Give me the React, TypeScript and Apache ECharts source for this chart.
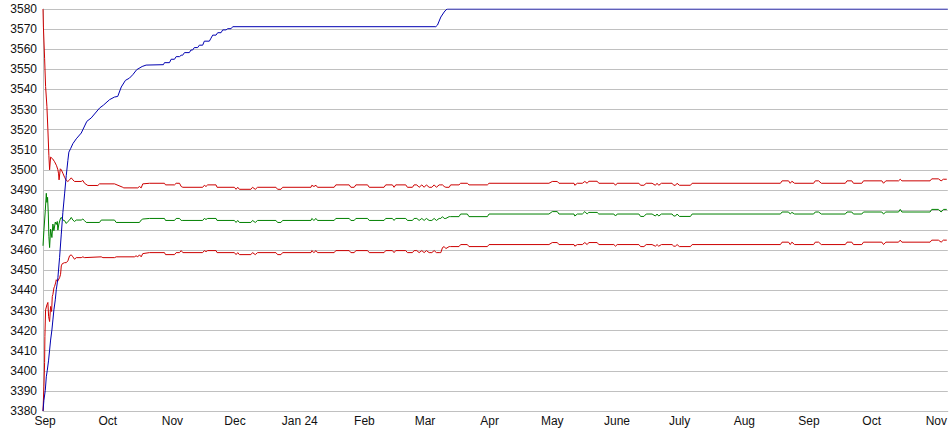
import React, { useEffect, useRef } from "react";
import * as echarts from "echarts";

// Time base: day offsets counted from 31 Aug 2023 (UTC)
const START = Date.UTC(2023, 7, 31);
const DAY = 86400000;
const AXIS_DAYS = 433.5;

const MONTH_LABELS = ["Jan", "Feb", "Mar", "Apr", "May", "June", "July", "Aug", "Sep", "Oct", "Nov", "Dec"];
const Y_MIN = 3380;
const Y_MAX = 3580;
const Y_STEP = 10;

// ---- early (settling) phase ----
const upperEarlyDays = [0, 0.2, 0.77, 1.24, 1.87, 2.34, 2.82, 3.16, 3.64, 4.59, 5.55, 6.51, 7.13, 7.46, 7.7, 8.28, 8.76, 9.52, 10.34, 11.15, 11.92, 12.73, 13.54, 14.31, 15.12, 18.33, 19.09, 19.91, 21.48, 26.27, 27.08, 34.26, 38.23, 38.71, 45.41, 46.22, 47.04, 47.8];
const upperEarlyValues = [3580, 3571, 3555.5, 3541.5, 3531.6, 3520, 3507, 3500, 3506.3, 3505.5, 3504, 3502, 3500, 3498, 3495, 3500.5, 3500, 3498.3, 3496.3, 3494.7, 3494.2, 3495, 3496, 3495, 3494.2, 3494.2, 3494.7, 3493.3, 3492.2, 3492.2, 3493, 3493, 3491.3, 3491, 3491, 3491.7, 3491, 3493];

const meanEarlyDays = [0, 0.43, 1.1, 1.58, 1.87, 2.2, 2.54, 2.82, 3.16, 3.64, 4.26, 4.74, 5.22, 5.89, 6.36, 6.84, 7.13, 7.61, 8.28, 8.76, 9.24, 9.52, 10.34, 11.15, 11.92, 12.73, 13.54, 14.31, 15.12, 15.93, 18.33, 19.09, 19.91, 20.72, 27.08, 27.9, 34.26, 35.07, 46.22, 47.04, 47.8];
const meanEarlyValues = [3462.2, 3469.7, 3479.7, 3488.3, 3483.8, 3486.3, 3478, 3466.7, 3461.3, 3470.5, 3466.3, 3473, 3469.7, 3474, 3472.8, 3474.3, 3470, 3473, 3475.5, 3476.3, 3475.5, 3475, 3474.7, 3473.3, 3474.3, 3475, 3476.3, 3475, 3474.3, 3475, 3475, 3475.5, 3474.7, 3473.8, 3473.8, 3475, 3475, 3473.8, 3473.8, 3475, 3475.5];

const lowerEarlyDays = [0, 0.43, 0.77, 0.91, 1.24, 1.87, 2.34, 2.68, 3.16, 3.64, 4.12, 4.45, 4.74, 5.22, 5.55, 6.03, 6.36, 6.99, 7.94, 8.42, 8.76, 9.24, 10.34, 11.15, 11.92, 12.73, 13.54, 14.31, 15.12, 15.93, 18.33, 19.09, 19.91, 27.9, 28.7, 34.26, 35.07, 43.8, 44.6, 45.4, 46.22, 47.04, 47.8];
const lowerEarlyValues = [3380, 3392, 3404, 3417, 3430.3, 3432.8, 3434, 3427, 3424.5, 3432, 3429.5, 3437, 3438, 3441.2, 3442, 3443.7, 3445.3, 3444.5, 3446.3, 3448, 3452.2, 3453.3, 3453.8, 3453.8, 3454.7, 3457.2, 3457.7, 3456.7, 3455.5, 3456.3, 3456.3, 3456.7, 3456.3, 3456.7, 3456.3, 3456.3, 3456.7, 3456.7, 3457.2, 3456.7, 3457.7, 3456.7, 3458.3];

// ---- steady phase (shared breakpoints) ----
const steadyDays = [51.0, 58.2, 58.7, 63.0, 63.8, 65.4, 66.2, 67.0, 76.5, 77.3, 78.1, 78.9, 82.9, 83.4, 91.7, 92.5, 93.3, 94.1, 99.6, 100.4, 101.7, 102.8, 111.6, 112.4, 114.0, 114.8, 128.4, 128.8, 129.8, 130.8, 131.5, 139.5, 140.3, 146.7, 147.5, 149.1, 149.9, 155.5, 156.3, 163.4, 164.2, 167.4, 168.2, 169.0, 173.8, 174.6, 177.0, 177.8, 179.1, 180.2, 181.5, 182.6, 183.7, 185.0, 186.3, 187.4, 188.5, 189.8, 190.6, 191.4, 192.2, 193.0, 194.6, 195.3, 199.3, 200.1, 203.3, 204.1, 212.9, 213.7,
  242.4, 244.0, 246.4, 247.2, 254.4, 254.8, 256.0, 258.4, 259.6, 260.7, 261.5, 265.5, 266.3, 273.5, 274.3, 275.1, 285.5, 286.3, 287.9, 289.0, 291.8, 293.4, 294.2, 295.0, 296.3, 301.4, 302.2, 303.0, 303.8, 304.9, 310.2, 311.0, 353.3, 354.1, 357.2, 358.0, 358.8, 360.1, 369.2, 370.0, 371.6, 372.9, 384.4, 385.2, 387.5, 388.3, 392.3, 393.1, 401.9, 402.7, 403.8, 409.9, 410.7, 411.5, 425.0, 425.8, 429.0, 430.3, 431.4, 433.0];
const upperSteady = [3493.3, 3493.3, 3492.5, 3492.5, 3493.3, 3493.3, 3491.7, 3491.3, 3491.3, 3492.3, 3491.7, 3492.5, 3492.5, 3491.3, 3491.3, 3490.3, 3491.3, 3490.3, 3490.3, 3491.3, 3490.3, 3491.3, 3491.3, 3490.3, 3490.3, 3491.3, 3491.3, 3492.3, 3491.7, 3492.3, 3491.3, 3491.3, 3492.5, 3492.5, 3491.3, 3491.3, 3492.5, 3492.5, 3491.3, 3491.3, 3492.5, 3492.5, 3491.3, 3492.5, 3492.5, 3491.3, 3491.3, 3492.5, 3492.5, 3491.3, 3492.5, 3491.3, 3492.5, 3491.3, 3491.3, 3492.5, 3491.3, 3492.5, 3492.5, 3492.5, 3491.7, 3491.3, 3491.3, 3492.5, 3492.5, 3493.3, 3493.3, 3492.5, 3492.5, 3493.3,
  3493.3, 3494.2, 3494.2, 3493.3, 3493.3, 3492.3, 3493.3, 3493.3, 3494.2, 3493.3, 3494.3, 3494.3, 3493.3, 3493.3, 3492.3, 3493.3, 3493.3, 3492.3, 3492.3, 3493.3, 3493.3, 3492.3, 3493.3, 3492.3, 3493.3, 3493.3, 3492.3, 3492.3, 3493.3, 3492.3, 3492.3, 3493.3, 3493.3, 3494.5, 3494.5, 3493.3, 3494.3, 3493.3, 3493.3, 3494.5, 3494.5, 3493.3, 3493.3, 3494.5, 3494.5, 3493.3, 3493.3, 3494.5, 3494.5, 3493.3, 3494.5, 3494.5, 3495.3, 3494.5, 3494.5, 3495.5, 3495.5, 3494.5, 3495.3, 3495.3];
const meanSteady = [3475.8, 3475.8, 3474.8, 3474.8, 3475.8, 3475.8, 3474.8, 3474.8, 3474.8, 3475.8, 3475.3, 3475.8, 3475.8, 3474.8, 3474.8, 3473.8, 3474.8, 3473.8, 3473.8, 3474.8, 3473.8, 3474.8, 3474.8, 3473.8, 3473.8, 3474.8, 3474.8, 3475.8, 3474.8, 3475.8, 3474.8, 3474.8, 3475.8, 3475.8, 3474.8, 3474.8, 3475.8, 3475.8, 3474.8, 3474.8, 3475.8, 3475.8, 3474.8, 3475.8, 3475.8, 3474.8, 3474.8, 3475.8, 3475.8, 3474.8, 3475.8, 3474.8, 3475.8, 3474.8, 3474.8, 3475.8, 3474.8, 3475.8, 3475.8, 3476.7, 3475.8, 3475.8, 3476.7, 3476.7, 3476.7, 3478.0, 3478.0, 3476.7, 3476.7, 3478.0,
  3478.0, 3479.2, 3479.2, 3478.0, 3478.0, 3477.0, 3478.0, 3478.0, 3479.2, 3478.0, 3478.8, 3478.8, 3478.0, 3478.0, 3477.0, 3478.0, 3478.0, 3476.8, 3476.8, 3478.0, 3478.0, 3477.0, 3478.0, 3477.0, 3478.0, 3478.0, 3477.0, 3477.0, 3478.0, 3476.8, 3476.8, 3478.0, 3478.0, 3479.0, 3479.0, 3478.0, 3478.8, 3478.0, 3478.0, 3479.0, 3479.0, 3478.0, 3478.0, 3479.0, 3479.0, 3478.0, 3478.0, 3479.0, 3479.0, 3478.0, 3479.0, 3479.0, 3480.3, 3479.0, 3479.0, 3480.3, 3480.3, 3479.0, 3480.3, 3480.3];
const lowerSteady = [3458.8, 3458.8, 3457.8, 3457.8, 3458.8, 3458.8, 3459.8, 3458.8, 3458.8, 3459.8, 3459.3, 3459.8, 3459.8, 3458.8, 3458.8, 3457.8, 3458.8, 3457.8, 3457.8, 3458.8, 3457.8, 3458.8, 3458.8, 3457.8, 3457.8, 3458.8, 3458.8, 3459.8, 3458.8, 3459.8, 3458.8, 3458.8, 3459.8, 3459.8, 3458.8, 3458.8, 3459.8, 3459.8, 3458.8, 3458.8, 3459.8, 3459.8, 3458.8, 3459.8, 3459.8, 3458.8, 3458.8, 3459.8, 3459.8, 3458.8, 3459.8, 3458.8, 3459.8, 3458.8, 3458.8, 3459.8, 3458.8, 3458.8, 3458.8, 3461.3, 3461.8, 3460.8, 3461.8, 3461.8, 3461.8, 3462.8, 3462.8, 3461.8, 3461.8, 3462.8,
  3462.8, 3463.8, 3463.8, 3462.8, 3462.8, 3462.0, 3462.8, 3462.8, 3463.8, 3462.8, 3463.8, 3463.8, 3462.8, 3462.8, 3462.0, 3462.8, 3462.8, 3461.8, 3461.8, 3462.8, 3462.8, 3462.0, 3462.8, 3462.0, 3462.8, 3462.8, 3462.0, 3462.0, 3462.8, 3461.8, 3461.8, 3462.8, 3462.8, 3464.0, 3464.0, 3462.8, 3464.0, 3462.8, 3462.8, 3464.0, 3464.0, 3462.8, 3462.8, 3464.0, 3464.0, 3462.8, 3462.8, 3464.0, 3464.0, 3462.8, 3464.0, 3464.0, 3465.0, 3464.0, 3464.0, 3465.0, 3465.0, 3464.0, 3465.0, 3465.0];

// ---- blue series ----
const blueDays = [0, 0.43, 1.1, 1.58, 2.06, 2.68, 3.16, 3.64, 4.26, 4.74, 5.22, 5.89, 6.36, 6.84, 7.13, 7.94, 8.76, 9.52, 10.34, 11.15, 11.92, 12.39, 13.21, 14.31, 15.93, 18.33, 21.0, 23.1, 27.08, 29.0, 31.9, 34.26, 35.8, 37.5, 39.5, 41.4, 43.0, 44.9, 47.5, 49.4, 57.7, 58.2, 60.6, 61.4, 63.0, 63.8, 65.4, 66.2, 66.9, 67.8, 70.1, 70.9, 71.7, 72.5, 74.1, 74.9, 76.5, 77.3, 79.7, 80.5, 81.3, 82.9, 83.7, 85.3, 86.1, 87.7, 88.5, 90.1, 90.9, 188.2, 189.0, 189.8, 190.6, 192.2, 193.1, 193.8, 433.5];
const blueValues = [3380, 3385.3, 3390.3, 3397, 3400.3, 3405.3, 3410.3, 3415.3, 3420.3, 3425.3, 3430.3, 3435.3, 3440.3, 3443.7, 3446.3, 3456.3, 3468, 3478.8, 3488, 3497.2, 3504.7, 3508.8, 3510.5, 3513, 3515.4, 3518.3, 3524.1, 3525.8, 3530.7, 3532.2, 3534.9, 3536.2, 3536.5, 3541.2, 3544.5, 3545.6, 3547.3, 3549.8, 3551.4, 3552.1, 3552.3, 3553.3, 3553.3, 3555, 3555, 3556.3, 3556.3, 3557, 3557, 3558.3, 3558.3, 3559.6, 3559.6, 3560.8, 3560.8, 3562, 3562, 3564, 3564, 3565.5, 3567, 3567, 3568.2, 3568.2, 3569.6, 3569.6, 3570.2, 3570.2, 3571.2, 3571.2, 3572, 3574, 3576, 3578.5, 3579.6, 3580, 3580];

const toPoints = (days: number[], vals: number[]) => days.map((d, i) => [START + d * DAY, vals[i]]);

export default function App() {
  const ref = useRef<HTMLDivElement>(null);
  useEffect(() => {
    document.body.style.margin = "0";
    if (!ref.current) return;
    const chart = echarts.init(ref.current, undefined, { renderer: "svg" });
    const font = "'Liberation Sans', Arial, sans-serif";
    const lineSeries = (name: string, data: any[], color: string) => ({
      name,
      type: "line",
      data,
      symbol: "none",
      showSymbol: false,
      smooth: false,
      lineStyle: { color, width: 1 },
      itemStyle: { color },
      emphasis: { disabled: true },
    });
    chart.setOption({
      animation: false,
      useUTC: true,
      backgroundColor: "#ffffff",
      grid: { left: 43, right: 1, top: 9, bottom: 24, containLabel: false },
      xAxis: {
        type: "time",
        min: START,
        max: START + AXIS_DAYS * DAY,
        minInterval: 35 * DAY,
        maxInterval: 45 * DAY,
        axisLine: { show: true, lineStyle: { color: "#c0c0c0", width: 1 } },
        axisTick: { show: false },
        splitLine: { show: false },
        axisLabel: {
          color: "#111",
          fontFamily: font,
          fontSize: 12,
          margin: 4,
          hideOverlap: false,
          formatter: (value: number) => {
            const d = new Date(value);
            if (d.getUTCDate() !== 1 || d.getUTCHours() !== 0 || d.getUTCMinutes() !== 0) return "";
            const m = d.getUTCMonth();
            if (m === 0) return MONTH_LABELS[0] + " " + String(d.getUTCFullYear()).slice(2);
            return MONTH_LABELS[m];
          },
        },
      },
      yAxis: {
        type: "value",
        min: Y_MIN,
        max: Y_MAX,
        interval: Y_STEP,
        axisLine: { show: true, lineStyle: { color: "#c0c0c0", width: 1 } },
        axisTick: { show: false },
        splitLine: { show: true, lineStyle: { color: "#c0c0c0", width: 1 } },
        axisLabel: {
          color: "#111",
          fontFamily: font,
          fontSize: 12,
          margin: 6,
          formatter: (v: number) => String(v),
        },
      },
      series: [
        lineSeries("Upper", toPoints(upperEarlyDays, upperEarlyValues).concat(toPoints(steadyDays, upperSteady)), "#cc0000"),
        lineSeries("Mean", toPoints(meanEarlyDays, meanEarlyValues).concat(toPoints(steadyDays, meanSteady)), "#008000"),
        lineSeries("Lower", toPoints(lowerEarlyDays, lowerEarlyValues).concat(toPoints(steadyDays, lowerSteady)), "#cc0000"),
        lineSeries("Total", toPoints(blueDays, blueValues), "#0000b0"),
      ],
    });
    return () => chart.dispose();
  }, []);
  return <div ref={ref} style={{ width: 950, height: 435 }} />;
}
